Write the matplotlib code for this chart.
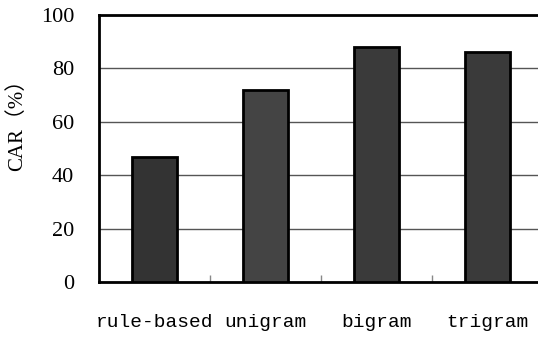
import matplotlib.pyplot as plt
import numpy as np

# data
categories = ['rule-based', 'unigram', 'bigram', 'trigram']
car = [47, 72, 88, 86]
bar_colors = ['#333333', '#444444', '#3a3a3a', '#3a3a3a']

fig = plt.figure(figsize=(5.38, 3.37), dpi=100)
ax = fig.add_axes([0.184, 0.163, 0.826, 0.7925])

x = np.arange(len(categories))
ax.bar(x, car, width=0.405, color=bar_colors, edgecolor='black', linewidth=2, zorder=3)

ax.set_xlim(-0.5, 3.5)
ax.set_ylim(0, 100)
ax.set_yticks([0, 20, 40, 60, 80, 100])
ax.yaxis.grid(True, color='#555555', linewidth=1, zorder=0)
ax.tick_params(axis='y', length=0, pad=18, labelsize=16)
for t in ax.get_yticklabels():
    t.set_fontfamily('Liberation Serif')

# x ticks between categories, labels at categories
ax.set_xticks(x[:-1] + 0.5)
ax.set_xticklabels([])
ax.tick_params(axis='x', direction='in', length=5, color='#888888', width=1)
for i, c in enumerate(categories):
    ax.text(i, -15.3, c, ha='center', va='center', fontsize=14,
            family='Liberation Mono', transform=ax.transData)

for s in ['left', 'bottom', 'top']:
    ax.spines[s].set_linewidth(2)
ax.spines['right'].set_visible(False)

fig.text(0.032, 1 - 120 / 337, 'CAR（%）', rotation=90, ha='center', va='center',
         fontsize=15, family=['Liberation Serif', 'Noto Sans CJK SC'])

fig.savefig('out.png', dpi=100)
